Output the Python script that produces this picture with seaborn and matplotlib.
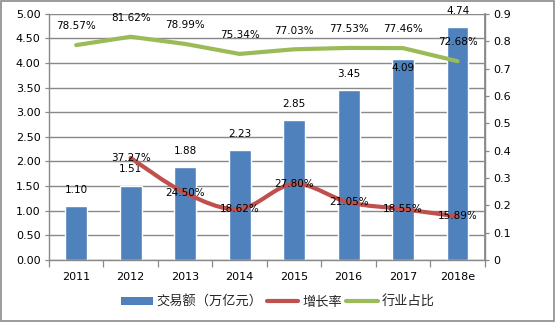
import numpy as np
import pandas as pd
import matplotlib
matplotlib.use('Agg')
import matplotlib.pyplot as plt
import seaborn as sns
from matplotlib.path import Path
from matplotlib.patches import PathPatch, Patch, Rectangle
from matplotlib.lines import Line2D
from matplotlib.ticker import FixedLocator, FormatStrFormatter

# ---- data ----
years = ['2011', '2012', '2013', '2014', '2015', '2016', '2017', '2018e']
volume = [1.10, 1.51, 1.88, 2.23, 2.85, 3.45, 4.09, 4.74]
growth = [np.nan, 0.3727, 0.2450, 0.1862, 0.2780, 0.2105, 0.1855, 0.1589]
share = [0.7857, 0.8162, 0.7899, 0.7534, 0.7703, 0.7753, 0.7746, 0.7268]
left_ticks = [0, 0.5, 1.0, 1.5, 2.0, 2.5, 3.0, 3.5, 4.0, 4.5, 5.0]
right_ticks = [0, 0.1, 0.2, 0.3, 0.4, 0.5, 0.6, 0.7, 0.8, 0.9]
right_labels = ['0', '0.1', '0.2', '0.3', '0.4', '0.5', '0.6', '0.7', '0.8', '0.9']
legend_labels = ['交易额（万亿元）', '增长率', '行业占比']

BLUE = '#4F81BD'
RED = '#C0504D'
GREEN = '#9BBB59'
GRID = '#898989'

sns.set_theme(style='white')
plt.rcParams['font.family'] = ['DejaVu Sans', 'Noto Sans CJK SC']

fig = plt.figure(figsize=(5.56, 3.22), dpi=100)
ax = fig.add_axes([0.088, 0.193, 0.784, 0.764])

df = pd.DataFrame({'year': years, 'volume': volume})
sns.barplot(data=df, x='year', y='volume', color=BLUE, width=0.4,
            saturation=1, ax=ax, zorder=2)
ax.set_xlim(-0.5, 7.5)
ax.set_ylim(0, 5)
ax.yaxis.set_major_locator(FixedLocator(left_ticks))
ax.yaxis.set_major_formatter(FormatStrFormatter('%.2f'))
ax.yaxis.grid(True, color=GRID, lw=1.0)
ax.set_axisbelow(True)
ax.set_xlabel('')
ax.set_ylabel('')
ax.xaxis.set_minor_locator(FixedLocator(np.arange(-0.5, 8, 1)))
ax.tick_params(axis='x', which='major', length=0, pad=9, labelsize=8, colors='black')
ax.tick_params(axis='x', which='minor', length=5, width=0.9, color=GRID, bottom=True)
ax.tick_params(axis='y', length=3, width=0.9, color=GRID, pad=3, labelsize=8, left=True)
for s in ['left', 'bottom', 'right']:
    ax.spines[s].set_color(GRID)
    ax.spines[s].set_linewidth(1.0)
ax.spines['top'].set_visible(False)

# bar labels (2017 label sits inside the bar top in the reference)
label_offsets = [8, 8, 8, 8, 8, 8, -6.5, 8]
for i, v in enumerate(volume):
    ax.annotate(f'{v:.2f}', (i, v), xytext=(0, label_offsets[i]),
                textcoords='offset points', ha='center',
                va='center' if label_offsets[i] < 0 else 'bottom',
                fontsize=7.5, color='black', zorder=5)

ax2 = ax.twinx()
ax2.set_ylim(0, 0.9)
ax2.yaxis.set_major_locator(FixedLocator(right_ticks))
ax2.set_yticklabels(right_labels)
ax2.tick_params(axis='y', length=3, width=0.9, color=GRID, pad=3, labelsize=8, right=True)
for s in ['left', 'bottom', 'right', 'top']:
    ax2.spines[s].set_visible(False)
ax2.spines['right'].set_visible(True)
ax2.spines['right'].set_color(GRID)
ax2.grid(False)

xs = np.arange(len(years))
sns.lineplot(x=xs, y=share, ax=ax2, color=GREEN, lw=3, zorder=3, legend=False)
ax2.set_xlim(-0.5, 7.5)

# smoothed growth line (Bezier through the data points)
gx = xs[1:].astype(float)
gy = np.array(growth[1:], dtype=float)
pts = np.column_stack([gx, gy])
verts = [pts[0]]
codes = [Path.MOVETO]
n = len(pts)
for i in range(n - 1):
    p0 = pts[i - 1] if i > 0 else pts[i]
    p1 = pts[i]
    p2 = pts[i + 1]
    p3 = pts[i + 2] if i + 2 < n else pts[i + 1]
    c1 = p1 + (p2 - p0) / 6.0
    c2 = p2 - (p3 - p1) / 6.0
    verts += [c1, c2, p2]
    codes += [Path.CURVE4] * 3
ax2.add_patch(PathPatch(Path(verts, codes), fill=False, ec=RED, lw=3,
                        capstyle='round', joinstyle='round', zorder=3))

for i in range(1, len(years)):
    ax2.annotate(f'{growth[i]*100:.2f}%', (i, growth[i]), ha='center', va='center',
                 fontsize=7.5, color='black', zorder=6)
for i, v in enumerate(share):
    ax2.annotate(f'{v*100:.2f}%', (i, v), xytext=(0, 13.5), textcoords='offset points',
                 ha='center', va='center', fontsize=7.5, color='black', zorder=6)

for t in ax.get_yticklabels() + ax2.get_yticklabels() + ax.get_xticklabels():
    t.set_color('black')

handles = [Patch(facecolor=BLUE, edgecolor='none'),
           Line2D([], [], color=RED, lw=3),
           Line2D([], [], color=GREEN, lw=3)]
fig.legend(handles, legend_labels, loc='center', bbox_to_anchor=(0.5, 0.062), ncol=3,
           frameon=False, prop={'family': ['Noto Sans CJK SC'], 'size': 9.5},
           handlelength=2.4, handleheight=0.6, handletextpad=0.3, columnspacing=0.3)

fig.patches.append(Rectangle((0.002, 0.003), 0.995, 0.993, transform=fig.transFigure,
                             fill=False, ec='#8a8a8a', lw=1.2))

fig.savefig('out.png', dpi=100)
